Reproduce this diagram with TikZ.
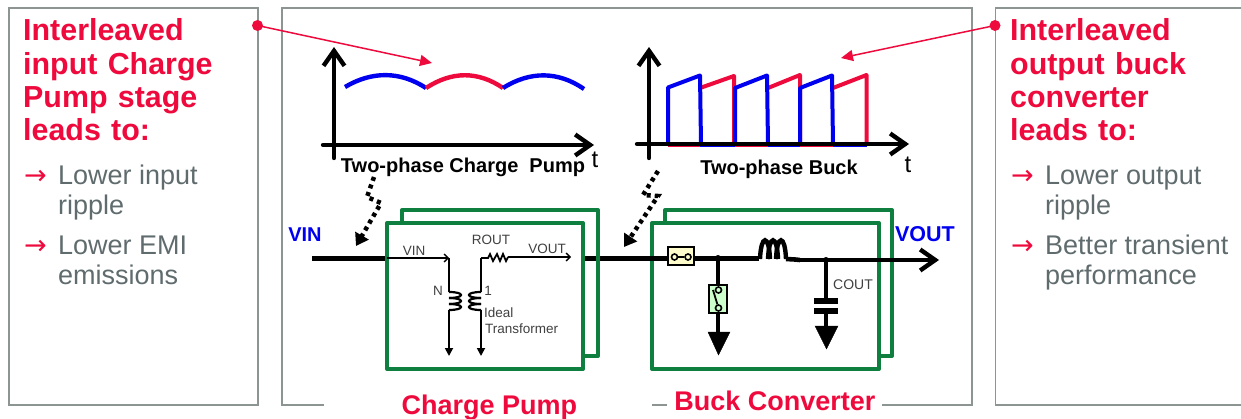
\documentclass[tikz,border=0pt]{standalone}
\usepackage{fontspec}
\setmainfont{Liberation Sans}
\newfontfamily\arrowfont{DejaVu Sans}
\newfontfamily\headfont[WordSpace=1.22]{Liberation Sans}
\usetikzlibrary{arrows.meta}
\definecolor{tired}{HTML}{EE0A3C}
\definecolor{txtgray}{HTML}{5F6B6D}
\definecolor{boxgray}{HTML}{8D9593}
\definecolor{boxgreen}{HTML}{0E7F3F}
\definecolor{phaseblue}{HTML}{0000F0}
\begin{document}
\begin{tikzpicture}[
		x=1pt,y=-1pt,
		panel/.style={draw=boxgray,line width=1.2pt},
		heading/.style={anchor=base west,inner sep=0,align=left,text=tired,font=\headfont\bfseries\fontsize{30.4}{33.4}\selectfont},
		bodytxt/.style={anchor=base west,inner sep=0,align=left,text=txtgray,font=\fontsize{27}{29.6}\selectfont},
		bullet/.style={anchor=base west,inner sep=0,text=tired,font=\arrowfont\fontsize{27}{29.5}\selectfont},
		callout/.style={draw=tired,line width=1.5pt,-{Triangle[length=12pt,width=11pt]}},
		spot/.style={circle,fill=tired,inner sep=0,minimum size=11pt},
		axis/.style={line width=4.4pt,line cap=round,-{Straight Barb[length=15pt,width=21pt,line width=4.4pt]}},
		arc/.style={line width=4.4pt},
		pulse/.style={line width=4pt,line join=round},
		caption/.style={anchor=base,inner sep=0,font=\bfseries\fontsize{20}{22}\selectfont},
		tlabel/.style={anchor=base,inner sep=0,font=\fontsize{24}{26}\selectfont},
		hop/.style={line width=4.5pt,dash pattern=on 4pt off 4pt,-{Triangle[length=12pt,width=15pt]}},
		wire/.style={line width=4.6pt},
		thin/.style={line width=1.8pt},
		gbox/.style={draw=boxgreen,line width=4pt,line join=round,inner sep=0,outer sep=0,anchor=north west},
		small/.style={anchor=base,inner sep=0,text=black!75,font=\fontsize{13.5}{15}\selectfont},
		rail/.style={anchor=base,inner sep=0,text=phaseblue,font=\bfseries\fontsize{20}{22}\selectfont},
		stage/.style={anchor=base,inner sep=0,text=tired,font=\bfseries\fontsize{27}{29}\selectfont},
		swbox/.style={draw=black,line width=1.6pt,inner sep=0,outer sep=0,anchor=north west},
		contact/.style={circle,draw=black,fill=none,line width=1.6pt,inner sep=0,minimum size=6pt},
		joint/.style={circle,fill=black,inner sep=0,minimum size=6pt},
		gnd/.style={fill=black}
		]
		\useasboundingbox (0,0) rectangle (1241,419);

		% three panels
		\draw[panel] (9,8) rectangle (258,405);
		\draw[panel] (324,405) -- (282,405) -- (282,8) -- (972,8) -- (972,405) -- (882,405);
		\draw[panel] (652,405) -- (667,405);
		\draw[panel] (1241,8) -- (995.5,8) -- (995.5,405) -- (1241,405);

		% left text
		\node[heading] (lefthead) at (23,141) {Interleaved\\input Charge\\Pump stage\\leads to:};
		\node[bullet] (leftbulletone) at (24,185) {→};
		\node[bodytxt] (lefttxtone) at (58,214.5) {Lower input\\ripple};
		\node[bullet] (leftbullettwo) at (24,255) {→};
		\node[bodytxt] (lefttxttwo) at (58,284.5) {Lower EMI\\emissions};

		% right text
		\node[heading] (righthead) at (1010,141) {Interleaved\\output buck\\converter\\leads to:};
		\node[bullet] (rightbulletone) at (1011,185) {→};
		\node[bodytxt] (righttxtone) at (1045,214.5) {Lower output\\ripple};
		\node[bullet] (rightbullettwo) at (1011,255) {→};
		\node[bodytxt] (righttxttwo) at (1045,284.5) {Better transient\\performance};

		% callouts
		\node[spot] (leftspot) at (257.5,25.5) {};
		\node[spot] (rightspot) at (995,25.5) {};
		\coordinate (lefttip) at (432,63);
		\coordinate (righttip) at (841,58);
		\draw[callout] (leftspot.center) -- (lefttip);
		\draw[callout] (rightspot.center) -- (righttip);

		% charge pump waveform
		\coordinate (cporigin) at (334,158);
		\coordinate (cpytop) at (334,47);
		\coordinate (cpxstart) at (323,145);
		\coordinate (cpxend) at (594,145);
		\draw[axis] (cporigin) -- (cpytop);
		\draw[axis] (cpxstart) -- (cpxend);
		\draw[arc,phaseblue] (345,87) .. controls (372,71) and (400,71) .. (426,88);
		\draw[arc,tired] (426,88) .. controls (452,71) and (478,71) .. (503,88);
		\draw[arc,phaseblue] (503,88) .. controls (530,71) and (558,71) .. (584,89);
		\node[caption] (cpcaption) at (463,173) {Two-phase Charge\ \ Pump};
		\node[tlabel] (cpt) at (595,168) {t};

		% buck waveform
		\coordinate (bkorigin) at (649,158);
		\coordinate (bkytop) at (649,47);
		\coordinate (bkxstart) at (637,144);
		\coordinate (bkxend) at (909,144);
		\draw[tired,line width=2.5pt] (668,146) -- (700,146);
		\draw[phaseblue,line width=2.5pt] (700,146) -- (735,146);
		\draw[tired,line width=2.5pt] (735,146) -- (768,146);
		\draw[phaseblue,line width=2.5pt] (768,146) -- (800,146);
		\draw[tired,line width=2.5pt] (800,146) -- (833,146);
		\draw[phaseblue,line width=2.5pt] (833,146) -- (867,146);
		\draw[pulse,tired] (700,88) -- (734,76) -- (734,144);
		\draw[pulse,tired] (768,88) -- (800,75) -- (800,144);
		\draw[pulse,tired] (833,88) -- (866.5,75) -- (866.5,144);
		\draw[pulse,phaseblue] (668,144) -- (668,87.5) -- (700,75.5) -- (701,144);
		\draw[pulse,phaseblue] (735,144) -- (735,88) -- (767,75.5) -- (768,144);
		\draw[pulse,phaseblue] (800,144) -- (800,88) -- (832,75.5) -- (833,144);
		\draw[axis] (bkorigin) -- (bkytop);
		\draw[axis] (bkxstart) -- (bkxend);
		\node[caption] (bkcaption) at (779,175) {Two-phase Buck};
		\node[tlabel] (bkt) at (908,173) {t};

		% buck stage boxes
		\node[gbox,minimum width=227pt,minimum height=146pt] (bkback) at (665,210) {};
		\node[gbox,fill=white,minimum width=227pt,minimum height=146pt] (bkfront) at (652,223) {};

		% wires
		\coordinate (vinstart) at (312,258.5);
		\coordinate (cpin) at (387,258.5);
		\coordinate (cpout) at (583,258.5);
		\coordinate (lhin) at (750,258.5);
		\coordinate (lhout) at (795,259.5);
		\coordinate (voutend) at (939,260);
		\draw[wire] (vinstart) -- (cpin);
		\draw[wire] (cpout) -- (lhin) -- (759,258.5);
		\draw[wire] (786,259) -- (lhout) -- (800,260);
		\draw[axis] (800,260) -- (voutend);

		% charge pump boxes
		\node[gbox,minimum width=196pt,minimum height=146pt] (cpback) at (402,210) {};
		\node[gbox,fill=white,minimum width=196pt,minimum height=146pt] (cpfront) at (387,223) {};

		% transformer
		\coordinate (priin) at (387,258);
		\coordinate (pritop) at (449,258);
		\coordinate (pricoil) at (449,292);
		\coordinate (pricoilend) at (449,310);
		\coordinate (priend) at (449,356);
		\coordinate (sectop) at (481,258);
		\coordinate (seccoil) at (481,292);
		\coordinate (seccoilend) at (481,310);
		\coordinate (secend) at (481,356);
		\coordinate (resin) at (488,258);
		\coordinate (resout) at (508,257);
		\coordinate (secout) at (571,257);
		\draw[thin,-{Straight Barb[length=4pt,width=8pt,line width=1.4pt]}] (priin) -- (pritop);
		\draw[thin] (pritop) -- (pricoil);
		\draw[thin,-{Triangle[length=8pt,width=8pt]}] (pricoilend) -- (priend);
		\draw[thin] (sectop) -- (seccoil);
		\draw[thin,-{Triangle[length=8pt,width=8pt]}] (seccoilend) -- (secend);
		\draw[thin] (sectop) -- (resin) -- (490,254) -- (493,261) -- (497,254) -- (500,261) -- (503,254) -- (506,261) -- (resout);
		\draw[thin,-{Straight Barb[length=4pt,width=8pt,line width=1.4pt]}] (resout) -- (secout);
		\foreach \y in {292,298,304} {
			\draw[line width=2.2pt] (449,\y) .. controls (465,\y) and (465,\y+6) .. (449,\y+6);
			\draw[line width=2.2pt] (481,\y) .. controls (465,\y) and (465,\y+6) .. (481,\y+6);
		}
		\node[small] (cpvin) at (414,256) {VIN};
		\node[small] (cprout) at (491,245) {ROUT};
		\node[small] (cpvout) at (547,254) {VOUT};
		\node[small] (ratiop) at (438,296) {N};
		\node[small] (ratios) at (488,296) {1};
		\node[small,anchor=base west] (idealtxt) at (484,317) {Ideal};
		\node[small,anchor=base west] (transtxt) at (485,334) {Transformer};

		% buck parts
		\node[swbox,fill=yellow!20,minimum width=26pt,minimum height=18pt] (swhigh) at (668,247) {};
		\node[contact] (swhighl) at (674.5,257) {};
		\node[contact] (swhighr) at (688,257) {};
		\draw[thin] (swhighl) -- (swhighr);
		\node[joint] (midjoint) at (718,258) {};
		\coordinate (midgnd) at (718,333);
		\draw[wire] (midjoint.center) -- (midgnd);
		\node[swbox,fill=green!20,minimum width=18pt,minimum height=28pt] (swlow) at (709,285) {};
		\node[contact] (swlowt) at (718.5,290) {};
		\node[contact] (swlowb) at (718.5,308) {};
		\draw[thin] (713,290) -- (swlowb);
		\draw[gnd] (708,332) -- (730,332) -- (718.5,355) -- cycle;
		% inductor
		\foreach \x in {760,768,776} {
			\draw[line width=4.4pt] (\x,259) .. controls (\x+1,234) and (\x+9,234) .. (\x+10,259);
		}
		% output capacitor
		\node[joint] (capjoint) at (826,260) {};
		\coordinate (capupper) at (826,300);
		\coordinate (caplower) at (826,327);
		\draw[wire] (capjoint.center) -- (capupper);
		\draw[line width=5.5pt] (814,301) -- (838,301);
		\draw[line width=5.5pt] (814,311) -- (838,311);
		\draw[wire] (826,311) -- (caplower);
		\draw[gnd] (815,326) -- (838,326) -- (826.5,349) -- cycle;
		\node[small,font=\fontsize{14}{15}\selectfont] (coutlabel) at (853,290) {COUT};

		% dotted hops
		\coordinate (hopone) at (374,177);
		\coordinate (hoptwo) at (367,197);
		\coordinate (hopthree) at (381,203);
		\coordinate (hoponetip) at (356,246);
		\draw[hop] (hopone) -- (hoptwo) -- (hopthree) -- (hoponetip);
		\coordinate (hopfour) at (658,171);
		\coordinate (hopfive) at (643,195);
		\coordinate (hopsix) at (658,196);
		\coordinate (hoptwotip) at (624,247);
		\draw[hop] (hopfour) -- (hopfive) -- (hopsix) -- (hoptwotip);

		% rails and stages
		\node[rail] (vinlabel) at (305,242) {VIN};
		\node[rail,font=\bfseries\fontsize{21.5}{23}\selectfont] (voutlabel) at (925,242) {VOUT};
		\node[stage] (cplabel) at (489.5,414) {Charge Pump};
		\node[stage] (bklabel) at (775,410) {Buck Converter};
		\end{tikzpicture}
\end{document}
